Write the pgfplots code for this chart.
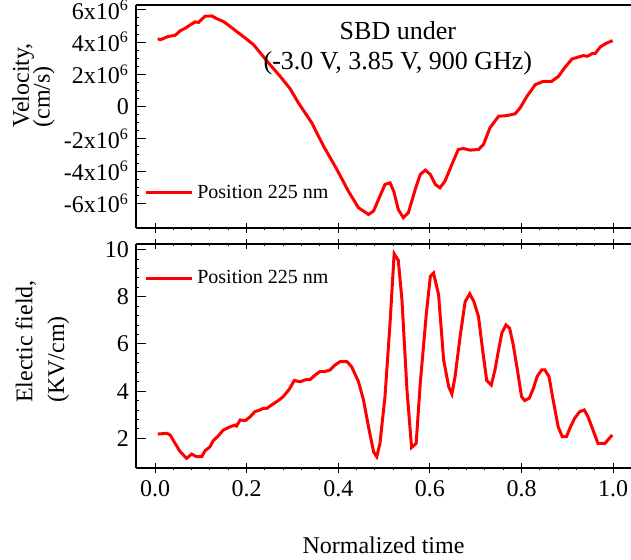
\documentclass[border=0pt]{standalone}
\usepackage{fontspec}
\setmainfont{Liberation Serif}
\usepackage{pgfplots}
\usepackage{pgfplotstable}
\pgfplotsset{compat=1.18}

\pgfplotstableread{
t v
0.006 4.20
0.012 4.15
0.029 4.35
0.044 4.42
0.055 4.70
0.066 4.86
0.087 5.25
0.095 5.22
0.109 5.60
0.124 5.62
0.135 5.45
0.149 5.28
0.164 4.97
0.178 4.66
0.197 4.25
0.215 3.84
0.233 3.22
0.251 2.60
0.273 1.88
0.295 1.10
0.313 0.23
0.342 -1.00
0.368 -2.46
0.397 -3.90
0.422 -5.24
0.444 -6.27
0.466 -6.69
0.477 -6.48
0.491 -5.55
0.502 -4.83
0.513 -4.73
0.521 -5.24
0.531 -6.38
0.542 -6.89
0.553 -6.58
0.568 -5.14
0.579 -4.21
0.590 -3.94
0.601 -4.21
0.612 -4.83
0.622 -5.04
0.633 -4.62
0.648 -3.59
0.662 -2.66
0.673 -2.60
0.688 -2.70
0.706 -2.66
0.717 -2.35
0.731 -1.32
0.750 -0.60
0.768 -0.56
0.786 -0.45
0.797 -0.08
0.812 0.64
0.830 1.36
0.848 1.57
0.866 1.57
0.881 1.88
0.892 2.33
0.910 2.95
0.925 3.08
0.935 3.16
0.944 3.12
0.954 3.28
0.961 3.30
0.972 3.70
0.986 3.94
0.999 4.09
}\veldata

\pgfplotstableread{
t E
0.006 2.18
0.026 2.21
0.033 2.14
0.044 1.78
0.055 1.43
0.069 1.15
0.080 1.33
0.091 1.22
0.102 1.22
0.109 1.47
0.120 1.64
0.127 1.90
0.138 2.10
0.149 2.35
0.164 2.49
0.175 2.56
0.178 2.52
0.186 2.78
0.197 2.75
0.208 2.92
0.218 3.13
0.229 3.20
0.236 3.27
0.244 3.27
0.258 3.46
0.269 3.60
0.280 3.77
0.293 4.08
0.304 4.45
0.317 4.40
0.328 4.48
0.339 4.50
0.350 4.69
0.360 4.83
0.371 4.83
0.382 4.90
0.393 5.11
0.404 5.25
0.419 5.25
0.429 5.04
0.444 4.41
0.455 3.63
0.466 2.49
0.477 1.43
0.484 1.22
0.491 1.78
0.502 3.77
0.513 6.88
0.522 9.83
0.531 9.55
0.539 7.88
0.550 4.05
0.560 1.61
0.570 1.78
0.579 4.33
0.592 7.24
0.601 8.87
0.608 9.01
0.619 8.09
0.630 5.33
0.641 4.19
0.648 3.88
0.655 4.62
0.666 6.32
0.677 7.80
0.687 8.13
0.696 7.80
0.706 7.17
0.716 5.61
0.724 4.45
0.734 4.26
0.742 4.90
0.750 5.75
0.757 6.46
0.766 6.81
0.774 6.67
0.782 5.96
0.791 4.90
0.800 3.77
0.807 3.60
0.817 3.70
0.826 4.12
0.834 4.62
0.844 4.90
0.851 4.90
0.860 4.62
0.869 3.63
0.880 2.49
0.889 2.07
0.898 2.07
0.907 2.49
0.916 2.85
0.927 3.13
0.937 3.20
0.945 2.92
0.956 2.35
0.967 1.78
0.982 1.78
0.998 2.14
}\efdata

\pgfplotsset{
  mystyle/.style={
    scale only axis,
    width=247.5pt,
    xmin=-0.0415, xmax=1.039,
    axis x line*=box, axis y line*=left,
    axis line style={line width=0.6pt, black},
    every tick/.style={line width=0.5pt, black},
    xtick={0,0.2,0.4,0.6,0.8,1},
    minor x tick num=4,
    xtick align=center,
    ytick align=inside,
    major tick length=5pt,
    minor tick length=1.5pt,
    tick label style={font=\fontsize{12pt}{14pt}\selectfont},
    label style={font=\fontsize{12pt}{14.4pt}\selectfont},
    /pgf/number format/assume math mode=true,
    legend style={draw=none, fill=none, font=\fontsize{10pt}{12pt}\selectfont, inner sep=0pt, legend cell align=left,
      /tikz/every even column/.append style={column sep=3pt}},
    legend image code/.code={\draw[#1] (0pt,0pt) -- (23pt,0pt);},
  }
}

\begin{document}
\begin{tikzpicture}
\path[use as bounding box] (0,0) rectangle (315.5pt,279.5pt);
\begin{axis}[
  mystyle,
  at={(68pt,165.5pt)}, anchor=south west,
  height=111.5pt,
  ymin=-7.53, ymax=6.3,
  xtick pos=bottom,
  xticklabels={},
  ytick={-6,-4,-2,0,2,4,6},
  minor y tick num=3,
  yticklabels={-6x10\textsuperscript{6},-4x10\textsuperscript{6},-2x10\textsuperscript{6},0,2x10\textsuperscript{6},4x10\textsuperscript{6},6x10\textsuperscript{6}},
  ylabel={Velocity,\\[-4pt](cm/s)},
  ylabel style={align=left, at={(axis description cs:-0.207,0.64)}, anchor=center},
  legend style={at={(axis description cs:0.016,0.157)}, anchor=west},
]
\addplot[red, line width=1.5pt] table[x=t, y=v] {\veldata};
\addlegendentry{Position 225 nm}
\node[align=center, font=\fontsize{13pt}{15pt}\selectfont] at (axis description cs:0.529,0.805) {SBD under\\(-3.0 V, 3.85 V, 900 GHz)};
\end{axis}

\begin{axis}[
  mystyle,
  at={(68pt,45.5pt)}, anchor=south west,
  height=112pt,
  ymin=0.74, ymax=10.24,
  xtick pos=both,
  ytick={2,4,6,8,10},
  minor y tick num=4,
  xticklabel style={/pgf/number format/.cd, fixed, fixed zerofill, precision=1},
  xlabel={Normalized time},
  xlabel style={at={(axis description cs:0.5,-0.344)}, anchor=center},
  ylabel={Electic field,\\[1.5pt](KV/cm)},
  ylabel style={align=left, at={(axis description cs:-0.189,0.565)}, anchor=center},
  legend style={at={(axis description cs:0.016,0.848)}, anchor=west},
]
\addplot[red, line width=1.5pt] table[x=t, y=E] {\efdata};
\addlegendentry{Position 225 nm}
\end{axis}
\end{tikzpicture}
\end{document}
